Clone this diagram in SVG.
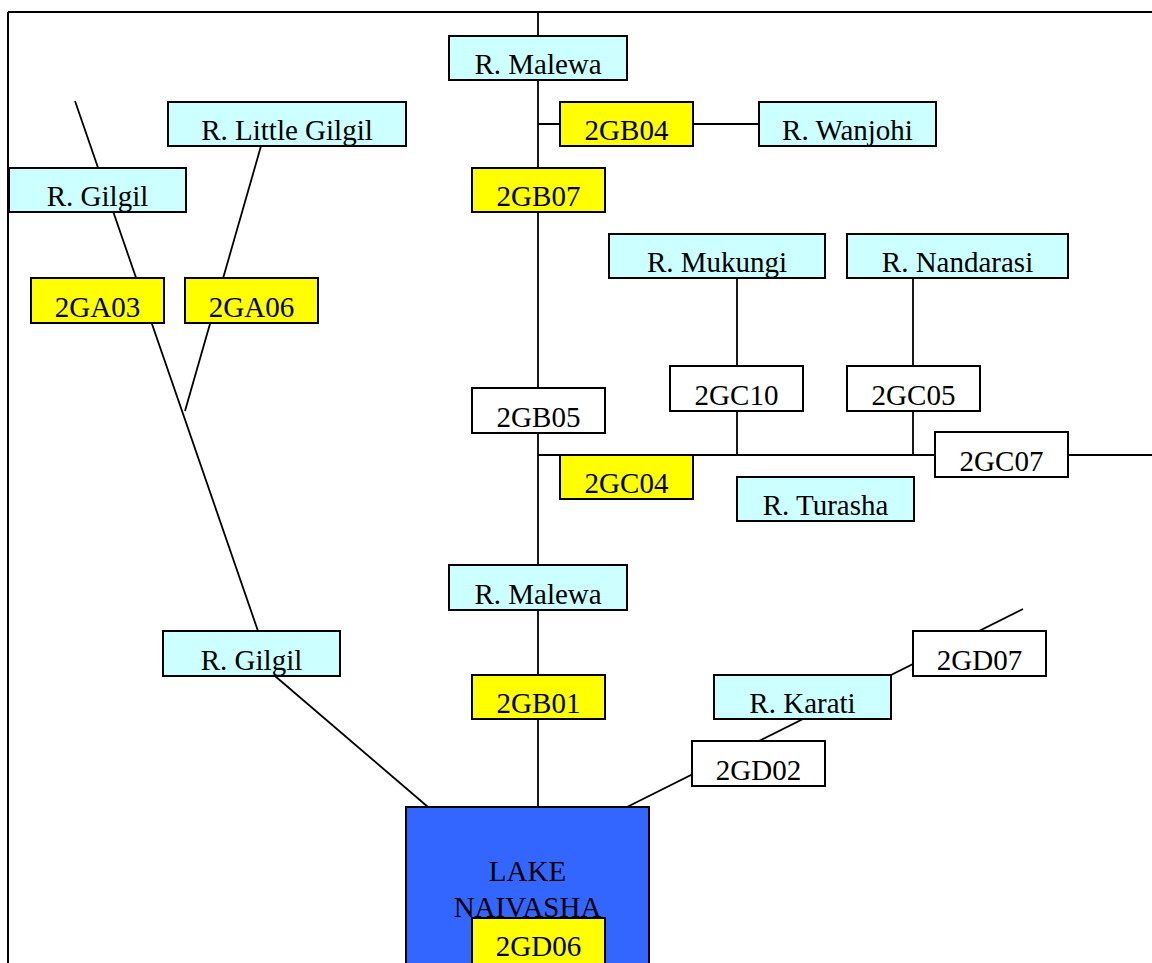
<svg xmlns="http://www.w3.org/2000/svg" width="1152" height="963" viewBox="0 0 1152 963">
<style>
.n rect{stroke:#000;stroke-width:2}
.river rect{fill:#CCFFFF}
.gauge rect{fill:#FFFF00}
.st rect{fill:#FFFFFF}
text{font-family:"Liberation Serif","Times New Roman",serif;font-size:29px;fill:#000;text-anchor:middle}
.c line{stroke:#000;stroke-width:1.8}
</style>
<rect x="0" y="0" width="1152" height="963" fill="#fff"/>
<g id="frame" fill="none" stroke="#000" stroke-width="2">
<line x1="8" y1="12" x2="1152" y2="12"/>
<line x1="8" y1="12" x2="8" y2="963"/>
</g>
<g id="connectors" class="c">
<line x1="75" y1="101" x2="258" y2="631"/>
<line x1="261" y1="146" x2="185" y2="411"/>
<line x1="275" y1="676" x2="428" y2="807"/>
<line x1="538" y1="12" x2="538" y2="807"/>
<line x1="538" y1="124" x2="759" y2="124"/>
<line x1="538" y1="455" x2="1152" y2="455"/>
<line x1="737" y1="278" x2="737" y2="455"/>
<line x1="913" y1="278" x2="913" y2="455"/>
<line x1="627" y1="807" x2="1023" y2="609"/>
</g>
<g id="lake" class="n"><rect x="406" y="807" width="243" height="170" fill="#3366FF"/>
<text x="527.5" y="881">LAKE</text><text x="527.5" y="917">NAIVASHA</text></g>
<g id="r-little-gilgil" class="n river"><rect x="168" y="102" width="238" height="44"/><text x="287" y="139.5">R. Little Gilgil</text></g>
<g id="r-gilgil-top" class="n river"><rect x="9" y="168" width="177" height="44"/><text x="97.5" y="206">R. Gilgil</text></g>
<g id="g2GA03" class="n gauge"><rect x="31" y="278" width="133" height="45"/><text x="97.5" y="316.5">2GA03</text></g>
<g id="g2GA06" class="n gauge"><rect x="185" y="278" width="133" height="45"/><text x="251.5" y="316.5">2GA06</text></g>
<g id="r-gilgil-bottom" class="n river"><rect x="163" y="631" width="177" height="45"/><text x="251.5" y="669.5">R. Gilgil</text></g>
<g id="r-malewa-top" class="n river"><rect x="449" y="36" width="178" height="44"/><text x="538" y="73.5">R. Malewa</text></g>
<g id="g2GB04" class="n gauge"><rect x="560" y="102" width="133" height="44"/><text x="626.5" y="139.5">2GB04</text></g>
<g id="r-wanjohi" class="n river"><rect x="759" y="102" width="177" height="44"/><text x="847.5" y="139.5">R. Wanjohi</text></g>
<g id="g2GB07" class="n gauge"><rect x="472" y="168" width="133" height="44"/><text x="538.5" y="206">2GB07</text></g>
<g id="r-mukungi" class="n river"><rect x="609" y="234" width="216" height="44"/><text x="717" y="271.5">R. Mukungi</text></g>
<g id="r-nandarasi" class="n river"><rect x="847" y="234" width="221" height="44"/><text x="957.5" y="271.5">R. Nandarasi</text></g>
<g id="g2GC10" class="n st"><rect x="670" y="366" width="133" height="45"/><text x="736.5" y="404.5">2GC10</text></g>
<g id="g2GC05" class="n st"><rect x="847" y="366" width="133" height="45"/><text x="913.5" y="404.5">2GC05</text></g>
<g id="g2GB05" class="n st"><rect x="472" y="388" width="133" height="45"/><text x="538.5" y="426.5">2GB05</text></g>
<g id="g2GC04" class="n gauge"><rect x="560" y="455" width="133" height="44"/><text x="626.5" y="492.5">2GC04</text></g>
<g id="g2GC07" class="n st"><rect x="935" y="432" width="133" height="45"/><text x="1001.5" y="470.5">2GC07</text></g>
<g id="r-turasha" class="n river"><rect x="737" y="477" width="177" height="44"/><text x="825.5" y="514.5">R. Turasha</text></g>
<g id="r-malewa-bottom" class="n river"><rect x="449" y="565" width="178" height="45"/><text x="538" y="603.5">R. Malewa</text></g>
<g id="g2GB01" class="n gauge"><rect x="472" y="675" width="133" height="44"/><text x="538.5" y="712.5">2GB01</text></g>
<g id="g2GD07" class="n st"><rect x="913" y="631" width="133" height="45"/><text x="979.5" y="669.5">2GD07</text></g>
<g id="r-karati" class="n river"><rect x="714" y="675" width="177" height="44"/><text x="802.5" y="712.5">R. Karati</text></g>
<g id="g2GD02" class="n st"><rect x="692" y="741" width="133" height="45"/><text x="758.5" y="779.5">2GD02</text></g>
<g id="g2GD06" class="n gauge"><rect x="472" y="918" width="133" height="50"/><text x="538.5" y="955.5">2GD06</text></g>
</svg>
